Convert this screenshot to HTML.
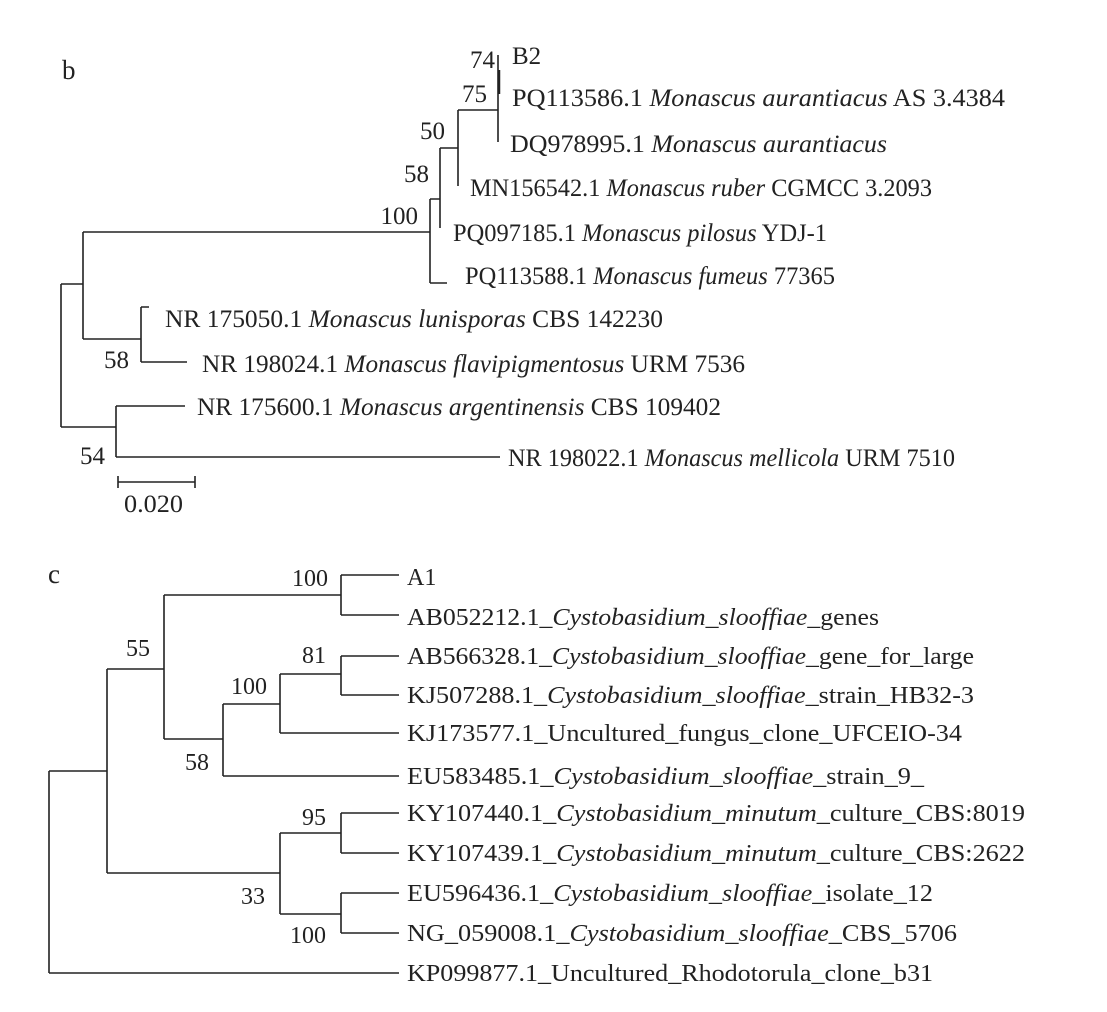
<!DOCTYPE html>
<html><head><meta charset="utf-8"><style>
html,body{margin:0;padding:0;background:#fff}
svg{display:block}
text{font-family:"Liberation Serif",serif;font-size:24px;fill:#222}
.b{font-size:25px}
.i{font-style:italic}
</style></head><body>
<svg width="1107" height="1012" viewBox="0 0 1107 1012" xmlns="http://www.w3.org/2000/svg">
<g stroke="#222" stroke-width="1.6" fill="none">
<path d="M61 284V427M61 284H83M61 427H116"/>
<path d="M83 232V339M83 232H430M83 339H141"/>
<path d="M430 199V283M430 283H447M430 199H440"/>
<path d="M440 148V228M440 148H458"/>
<path d="M458 110V186M458 110H498"/>
<path d="M498 55V142"/>
<path d="M499 70V94" stroke-width="2.5"/>
<path d="M141 307V362M141 307H149M141 362H187"/>
<path d="M116 406V457M116 406H185M116 457H500"/>
<path d="M118 482H195M118 476V488M195 476V488"/>
<path d="M49 771V973M49 771H107M49 973H399"/>
<path d="M107 669V873M107 669H164M107 873H280"/>
<path d="M164 595V739M164 595H341M164 739H223"/>
<path d="M341 575V615M341 575H399M341 615H399"/>
<path d="M223 704V776M223 704H280M223 776H399"/>
<path d="M280 674V733M280 674H341M280 733H399"/>
<path d="M341 656V695M341 656H399M341 695H399"/>
<path d="M280 833V914M280 833H341M280 914H341"/>
<path d="M341 813V853M341 813H399M341 853H399"/>
<path d="M341 893V933M341 893H399M341 933H399"/>
</g>
<g class="b">
<text class="b" x="62" y="79" style="font-size:27px">b</text>
<text class="b" x="512" y="64">B2</text>
<text class="b" x="512" y="106" textLength="493" lengthAdjust="spacingAndGlyphs">PQ113586.1 <tspan class="i">Monascus aurantiacus</tspan> AS 3.4384</text>
<text class="b" x="510" y="152" textLength="377" lengthAdjust="spacingAndGlyphs">DQ978995.1 <tspan class="i">Monascus aurantiacus</tspan></text>
<text class="b" x="470" y="196" textLength="462" lengthAdjust="spacingAndGlyphs">MN156542.1 <tspan class="i">Monascus ruber</tspan> CGMCC 3.2093</text>
<text class="b" x="453" y="241" textLength="374" lengthAdjust="spacingAndGlyphs">PQ097185.1 <tspan class="i">Monascus pilosus</tspan> YDJ-1</text>
<text class="b" x="465" y="284" textLength="370" lengthAdjust="spacingAndGlyphs">PQ113588.1 <tspan class="i">Monascus fumeus</tspan> 77365</text>
<text class="b" x="165" y="327" textLength="498" lengthAdjust="spacingAndGlyphs">NR 175050.1 <tspan class="i">Monascus lunisporas</tspan> CBS 142230</text>
<text class="b" x="202" y="372" textLength="543" lengthAdjust="spacingAndGlyphs">NR 198024.1 <tspan class="i">Monascus flavipigmentosus</tspan> URM 7536</text>
<text class="b" x="197" y="415" textLength="524" lengthAdjust="spacingAndGlyphs">NR 175600.1 <tspan class="i">Monascus argentinensis</tspan> CBS 109402</text>
<text class="b" x="508" y="466" textLength="447" lengthAdjust="spacingAndGlyphs">NR 198022.1 <tspan class="i">Monascus mellicola</tspan> URM 7510</text>
<text class="b" x="495" y="68" text-anchor="end">74</text>
<text class="b" x="487" y="102" text-anchor="end">75</text>
<text class="b" x="445" y="139" text-anchor="end">50</text>
<text class="b" x="429" y="182" text-anchor="end">58</text>
<text class="b" x="418" y="224" text-anchor="end">100</text>
<text class="b" x="129" y="368" text-anchor="end">58</text>
<text class="b" x="105" y="464" text-anchor="end">54</text>
<text class="b" x="124" y="512" textLength="59" lengthAdjust="spacingAndGlyphs">0.020</text>
</g>
<text x="48" y="583" style="font-size:27px">c</text>
<text x="407" y="585">A1</text>
<text x="407" y="625" textLength="472" lengthAdjust="spacingAndGlyphs">AB052212.1_<tspan class="i">Cystobasidium_slooffiae</tspan>_genes</text>
<text x="407" y="664" textLength="567" lengthAdjust="spacingAndGlyphs">AB566328.1_<tspan class="i">Cystobasidium_slooffiae</tspan>_gene_for_large</text>
<text x="407" y="703" textLength="567" lengthAdjust="spacingAndGlyphs">KJ507288.1_<tspan class="i">Cystobasidium_slooffiae</tspan>_strain_HB32-3</text>
<text x="407" y="741" textLength="555" lengthAdjust="spacingAndGlyphs">KJ173577.1_Uncultured_fungus_clone_UFCEIO-34</text>
<text x="407" y="784" textLength="517" lengthAdjust="spacingAndGlyphs">EU583485.1_<tspan class="i">Cystobasidium_slooffiae</tspan>_strain_9_</text>
<text x="407" y="821" textLength="618" lengthAdjust="spacingAndGlyphs">KY107440.1_<tspan class="i">Cystobasidium_minutum</tspan>_culture_CBS:8019</text>
<text x="407" y="861" textLength="618" lengthAdjust="spacingAndGlyphs">KY107439.1_<tspan class="i">Cystobasidium_minutum</tspan>_culture_CBS:2622</text>
<text x="407" y="901" textLength="526" lengthAdjust="spacingAndGlyphs">EU596436.1_<tspan class="i">Cystobasidium_slooffiae</tspan>_isolate_12</text>
<text x="407" y="941" textLength="550" lengthAdjust="spacingAndGlyphs">NG_059008.1_<tspan class="i">Cystobasidium_slooffiae</tspan>_CBS_5706</text>
<text x="407" y="981" textLength="526" lengthAdjust="spacingAndGlyphs">KP099877.1_Uncultured_Rhodotorula_clone_b31</text>
<text x="310" y="586" text-anchor="middle">100</text>
<text x="138" y="656" text-anchor="middle">55</text>
<text x="314" y="663" text-anchor="middle">81</text>
<text x="249" y="694" text-anchor="middle">100</text>
<text x="197" y="770" text-anchor="middle">58</text>
<text x="314" y="825" text-anchor="middle">95</text>
<text x="253" y="904" text-anchor="middle">33</text>
<text x="308" y="943" text-anchor="middle">100</text>
</svg>
</body></html>
